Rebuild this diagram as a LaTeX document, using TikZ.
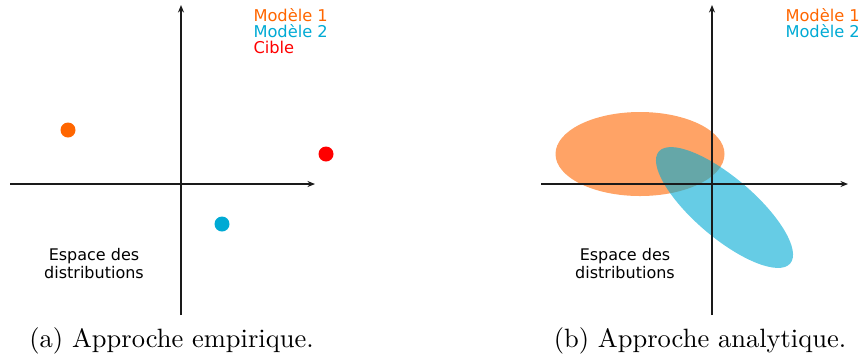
\documentclass[tikz,border=0pt]{standalone}
\usepackage{fontspec}
\newfontfamily\dejavu{DejaVu Sans}
\usetikzlibrary{arrows.meta}
\definecolor{mdlorange}{HTML}{FF6600}
\definecolor{mdlblue}{HTML}{00AAD4}
\definecolor{cible}{HTML}{FF0000}
\definecolor{axisgray}{HTML}{1A1A1A}

\begin{document}
\begin{tikzpicture}[
  x=0.4pt, y=-0.4pt,
  >={Stealth[length=3pt, width=2.4pt]},
  axis/.style={->, line width=0.8pt, draw=axisgray},
  point/.style={circle, fill=#1, minimum size=6pt, inner sep=0pt},
  legend/.style={font=\dejavu\fontsize{6.5}{7.2}\selectfont, text=#1, anchor=west, inner sep=0pt},
  space/.style={font=\dejavu\fontsize{6.4}{7.2}\selectfont, align=center, inner sep=0pt},
  caption/.style={font=\fontsize{10.6}{12}\selectfont, anchor=base, inner sep=0pt},
  blob/.style={fill=#1, fill opacity=0.6, draw=none},
]

\useasboundingbox (0,0) rectangle (860,363);

% =============================================
% (a) Empirical approach
% =============================================
\coordinate (xla) at (10,184);
\coordinate (xra) at (315,184);
\coordinate (yba) at (181,315);
\coordinate (yta) at (181,5);

\draw[axis] (xla) -- (xra);
\draw[axis] (yba) -- (yta);

\node[point=mdlorange] (m1a) at (68,130) {};
\node[point=mdlblue] (m2a) at (222,224) {};
\node[point=cible] (cible) at (326,154) {};

\node[legend=mdlorange] (lm1a) at (253,15) {Modèle 1};
\node[legend=mdlblue] (lm2a) at (253,31) {Modèle 2};
\node[legend=cible] (lcible) at (253,47) {Cible};

\node[space] (espa) at (94,264) {Espace des\\distributions};

\node[caption] (capa) at (171.5,347) {(a) Approche empirique.};

% =============================================
% (b) Analytical approach
% =============================================
\fill[blob=mdlorange] (640,154) ellipse [x radius=84.5, y radius=42];
\fill[blob=mdlblue, rotate around={-40.4:(724.5,207.5)}]
  (724.5,207.5) ellipse [x radius=86.3, y radius=30];

\coordinate (xlb) at (541,184);
\coordinate (xrb) at (848,184);
\coordinate (ybb) at (712,315);
\coordinate (ytb) at (712,5);

\draw[axis] (xlb) -- (xrb);
\draw[axis] (ybb) -- (ytb);

\node[legend=mdlorange] (lm1b) at (785,15) {Modèle 1};
\node[legend=mdlblue] (lm2b) at (785,31) {Modèle 2};

\node[space] (espb) at (625,264) {Espace des\\distributions};

\node[caption] (capb) at (700,347) {(b) Approche analytique.};

\end{tikzpicture}
\end{document}
